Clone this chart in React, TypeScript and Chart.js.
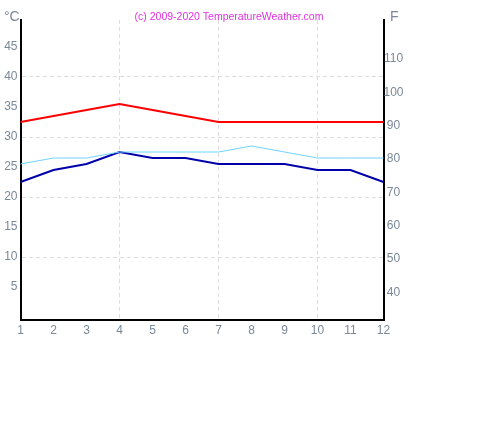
import { useEffect, useRef } from "react";
import { Chart, registerables } from "chart.js";

Chart.register(...registerables);

const months = ["1", "2", "3", "4", "5", "6", "7", "8", "9", "10", "11", "12"];
const maxTemp = [32.5, 33.5, 34.5, 35.5, 34.5, 33.5, 32.5, 32.5, 32.5, 32.5, 32.5, 32.5];
const minTemp = [22.5, 24.5, 25.5, 27.5, 26.5, 26.5, 25.5, 25.5, 25.5, 24.5, 24.5, 22.5];
const waterTemp = [25.5, 26.5, 26.5, 27.5, 27.5, 27.5, 27.5, 28.5, 27.5, 26.5, 26.5, 26.5];
const celsiusTicks = [5, 10, 15, 20, 25, 30, 35, 40, 45];
const fahrenheitTicks = [40, 50, 60, 70, 80, 90, 100, 110];

const C_MIN = -0.5;
const C_MAX = 49.5;
const toF = (c: number) => c * 1.8 + 32;

const labelColor = "#7a8898";
const gridColor = "#dddddd";

// copyright line and unit labels above the plot
const headerPlugin = {
  id: "header",
  afterDraw(chart: Chart) {
    const ctx = chart.ctx;
    ctx.save();
    ctx.textBaseline = "middle";
    ctx.font = "10.5px Arial, 'Liberation Sans', sans-serif";
    ctx.fillStyle = "#e033e0";
    ctx.textAlign = "center";
    ctx.fillText("(c) 2009-2020 TemperatureWeather.com", 229, 17.5);
    ctx.font = "14px Arial, 'Liberation Sans', sans-serif";
    ctx.fillStyle = labelColor;
    ctx.textAlign = "left";
    ctx.fillText("°C", 4, 17.5);
    ctx.fillText("F", 390, 17.5);
    ctx.restore();
  },
};

export default function App() {
  const chartRef = useRef<HTMLCanvasElement>(null);
  const chartInstance = useRef<Chart | null>(null);

  useEffect(() => {
    if (!chartRef.current) return;
    if (chartInstance.current) chartInstance.current.destroy();
    const ctx = chartRef.current.getContext("2d");
    if (!ctx) return;

    const font = { family: "Arial, 'Liberation Sans', sans-serif", size: 12 };

    chartInstance.current = new Chart(ctx, {
      type: "line",
      data: {
        labels: months,
        datasets: [
          {
            label: "water",
            data: waterTemp,
            borderColor: "#6fd3ff",
            borderWidth: 1,
            pointRadius: 0,
            tension: 0,
            yAxisID: "y",
          },
          {
            label: "min",
            data: minTemp,
            borderColor: "#0000aa",
            borderWidth: 2,
            pointRadius: 0,
            tension: 0,
            yAxisID: "y",
          },
          {
            label: "max",
            data: maxTemp,
            borderColor: "#ff0000",
            borderWidth: 2,
            pointRadius: 0,
            tension: 0,
            yAxisID: "y",
          },
        ],
      },
      options: {
        responsive: false,
        animation: false,
        events: [],
        layout: { padding: { top: 20, left: 0, right: 0, bottom: 0 } },
        plugins: {
          legend: { display: false },
          tooltip: { enabled: false },
          title: { display: false },
        },
        scales: {
          x: {
            type: "category",
            offset: false,
            grid: {
              drawTicks: false,
              color: (c: any) => ([3, 6, 9].includes(c.index) ? gridColor : "transparent"),
            },
            border: { display: true, color: "#000", width: 2, dash: [4, 3] },
            ticks: { color: labelColor, font, padding: 3, maxRotation: 0, autoSkip: false },
            afterFit: (s: any) => {
              s.height = 105;
            },
          },
          y: {
            type: "linear",
            position: "left",
            min: C_MIN,
            max: C_MAX,
            afterBuildTicks: (s: any) => {
              s.ticks = celsiusTicks.map((v) => ({ value: v }));
            },
            grid: {
              drawTicks: false,
              color: (c: any) => (c.tick && c.tick.value % 10 === 0 ? gridColor : "transparent"),
            },
            border: { display: true, color: "#000", width: 2, dash: [4, 3] },
            ticks: { color: labelColor, font, padding: 3 },
            afterFit: (s: any) => {
              s.width = 20.5;
            },
          },
          f: {
            type: "linear",
            position: "right",
            min: toF(C_MIN),
            max: toF(C_MAX),
            afterBuildTicks: (s: any) => {
              s.ticks = fahrenheitTicks.map((v) => ({ value: v }));
            },
            grid: { display: false, drawTicks: false },
            border: { display: true, color: "#000", width: 2 },
            ticks: { color: labelColor, font, padding: 0, crossAlign: "center", labelOffset: 2 },
            afterFit: (s: any) => {
              s.width = 120.5;
            },
          },
        },
      },
      plugins: [headerPlugin],
    });

    return () => {
      if (chartInstance.current) {
        chartInstance.current.destroy();
        chartInstance.current = null;
      }
    };
  }, []);

  return (
    <div style={{ position: "fixed", left: 0, top: 0, width: 504, height: 425, background: "#fff" }}>
      <canvas ref={chartRef} width={504} height={425} style={{ display: "block" }} />
    </div>
  );
}
